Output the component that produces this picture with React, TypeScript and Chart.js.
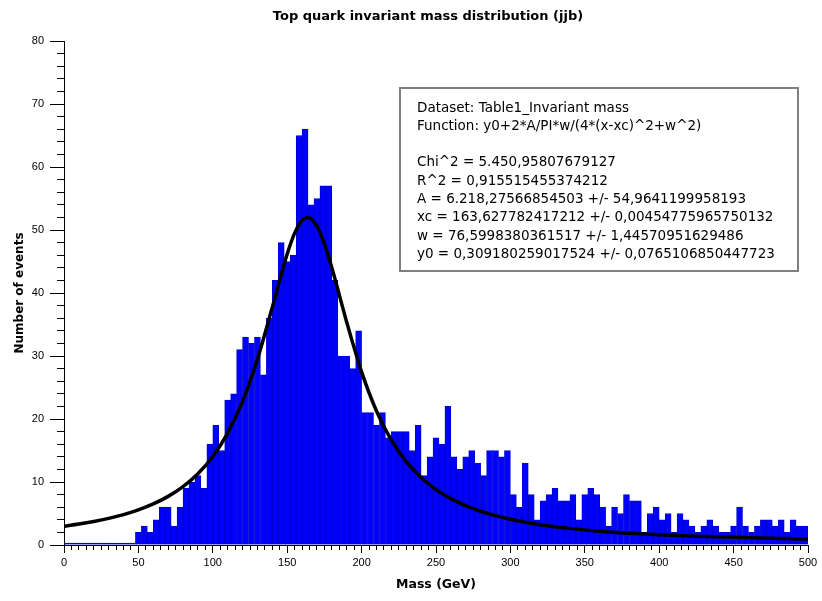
import React, { useEffect, useRef } from "react";
import { Chart, registerables } from "chart.js";

Chart.register(...registerables);

const TITLE = "Top quark invariant mass distribution (jjb)";
const X_TITLE = "Mass (GeV)";
const Y_TITLE = "Number of events";

// histogram: 4 GeV bins from 0 to 500 GeV
const BIN_WIDTH = 4;
const counts = [
  0, 0, 0, 0, 0, 0, 0, 0, 0, 0, 0, 0,
  2, 3, 2, 4, 6, 6, 3, 6, 9, 10, 11, 9, 16, 19, 15, 23, 24, 31, 33,
  32, 33, 27, 36, 42, 48, 45, 46, 65, 66, 54, 55, 57, 57, 42,
  30, 30, 28, 34, 21, 21, 19, 21, 17, 18, 18, 18, 15, 19,
  11, 14, 17, 16, 22, 14, 12, 14, 15, 13, 11, 15, 15, 14, 15,
  8, 6, 13, 8, 4, 7, 8, 9, 7, 7, 8, 4, 8, 9, 8,
  6, 3, 6, 5, 8, 7, 7, 2, 5, 6, 4, 5, 2, 5, 4, 3, 2,
  3, 4, 3, 2, 2, 3, 6, 3, 2, 3, 4, 4, 3, 4, 2, 4, 3, 3,
];

// fitted Lorentz curve
const fitMass = [0, 10, 20, 30, 40, 50, 60, 70, 80, 90, 100, 110, 120, 130, 140, 150, 155, 160, 164, 170, 175, 180, 190, 200, 210, 220, 230, 240, 250, 260, 270, 280, 290, 300, 320, 340, 360, 380, 400, 425, 450, 475, 500];
const fitValue = [2.99, 3.33, 3.74, 4.23, 4.83, 5.58, 6.52, 7.72, 9.27, 11.31, 14.05, 17.76, 22.8, 29.49, 37.74, 46.18, 49.5, 51.53, 52.0, 50.6, 47.8, 44.0, 35.37, 27.48, 21.27, 16.63, 13.22, 10.7, 8.8, 7.36, 6.24, 5.36, 4.66, 4.09, 3.23, 2.64, 2.2, 1.88, 1.63, 1.4, 1.22, 1.08, 0.97];

const X_MIN = 0, X_MAX = 500, X_MAJOR = 50, X_MINOR = 5;
const Y_MIN = 0, Y_MAX = 80, Y_MAJOR = 10, Y_MINOR = 2;

const infoLines = [
  "Dataset: Table1_Invariant mass",
  "Function: y0+2*A/PI*w/(4*(x-xc)^2+w^2)",
  "",
  "Chi^2 = 5.450,95807679127",
  "R^2 = 0,915515455374212",
  "A = 6.218,27566854503 +/- 54,9641199958193",
  "xc = 163,627782417212 +/- 0,00454775965750132",
  "w = 76,5998380361517 +/- 1,44570951629486",
  "y0 = 0,309180259017524 +/- 0,0765106850447723",
];

const FONT = "'DejaVu Sans', Verdana, sans-serif";
const TICK_FONT = "'Liberation Sans', Arial, sans-serif";

const decorPlugin = {
  id: "decor",
  afterDraw(chart: any) {
    const ctx = chart.ctx;
    ctx.save();
    // title
    ctx.fillStyle = "#000";
    ctx.font = `bold 13px ${FONT}`;
    ctx.textAlign = "center";
    ctx.textBaseline = "middle";
    ctx.fillText(TITLE, 428, 17);
    // info box
    const bx = 400, by = 88, bw = 398, bh = 183;
    ctx.fillStyle = "#fff";
    ctx.fillRect(bx, by, bw, bh);
    ctx.strokeStyle = "#808080";
    ctx.lineWidth = 2;
    ctx.strokeRect(bx, by, bw, bh);
    ctx.fillStyle = "#000";
    ctx.font = `13.5px ${FONT}`;
    ctx.textAlign = "left";
    ctx.textBaseline = "middle";
    infoLines.forEach((t, i) => {
      if (t) ctx.fillText(t, 417, 108 + i * 18.3);
    });
    ctx.restore();
  },
};

export default function App() {
  const ref = useRef<HTMLCanvasElement | null>(null);
  useEffect(() => {
    if (!ref.current) return;
    const binCenters = counts.map((_, i) => i * BIN_WIDTH + BIN_WIDTH / 2);
    const chart = new Chart(ref.current, {
      type: "bar",
      data: {
        datasets: [
          {
            type: "line",
            label: "fit",
            data: fitMass.map((x, i) => ({ x, y: fitValue[i] })),
            borderColor: "#000",
            borderWidth: 3.5,
            pointRadius: 0,
            cubicInterpolationMode: "monotone",
            fill: false,
            order: 0,
          } as any,
          {
            type: "bar",
            label: "events",
            data: binCenters.map((x, i) => ({ x, y: counts[i] })),
            backgroundColor: "#0000ff",
            borderColor: "#0000d0",
            borderWidth: 1,
            barPercentage: 1,
            categoryPercentage: 1,
            minBarLength: 2,
            order: 1,
          } as any,
        ],
      },
      options: {
        responsive: false,
        animation: false,
        layout: { padding: { top: 41, right: 14, left: 0, bottom: 0 } },
        plugins: {
          legend: { display: false },
          tooltip: { enabled: false },
          title: { display: false },
        },
        scales: {
          x: {
            type: "linear",
            position: "bottom",
            min: X_MIN,
            max: X_MAX,
            offset: false,
            weight: 1,
            ticks: {
              stepSize: X_MAJOR,
              autoSkip: false,
              maxRotation: 0,
              padding: 3,
              color: "#000",
              font: { family: TICK_FONT, size: 11 },
            },
            grid: { drawOnChartArea: false, offset: false, tickLength: 8, color: "#000" },
            border: { color: "#000", width: 1 },
            title: {
              display: true,
              text: X_TITLE,
              color: "#000",
              font: { family: FONT, size: 12.5, weight: "bold" },
              padding: { top: 0, bottom: 8.5 },
            },
            afterFit: (s: any) => { s.height = 56; },
          },
          x2: {
            type: "linear",
            axis: "x",
            position: "bottom",
            min: X_MIN,
            max: X_MAX,
            offset: false,
            weight: 0,
            ticks: { stepSize: X_MINOR, autoSkip: false, display: false },
            grid: { drawOnChartArea: false, offset: false, tickLength: 5, color: "#000" },
            border: { color: "#000", width: 1 },
            afterFit: (s: any) => { s.height = 0; },
          },
          y: {
            type: "linear",
            position: "left",
            min: Y_MIN,
            max: Y_MAX,
            weight: 1,
            ticks: {
              stepSize: Y_MAJOR,
              autoSkip: false,
              padding: 6,
              color: "#000",
              font: { family: TICK_FONT, size: 11 },
            },
            grid: { drawOnChartArea: false, tickLength: 14, color: "#000" },
            border: { color: "#000", width: 1 },
            title: {
              display: true,
              text: Y_TITLE,
              color: "#000",
              font: { family: FONT, size: 12, weight: "bold" },
              padding: { top: 13, bottom: 0 },
            },
            afterFit: (s: any) => { s.width = 64; },
          },
          y2: {
            type: "linear",
            axis: "y",
            position: "left",
            min: Y_MIN,
            max: Y_MAX,
            weight: 0,
            ticks: { stepSize: Y_MINOR, autoSkip: false, display: false },
            grid: { drawOnChartArea: false, tickLength: 7, color: "#000" },
            border: { color: "#000", width: 1 },
            afterFit: (s: any) => { s.width = 0; },
          },
        },
      } as any,
      plugins: [decorPlugin],
    });
    return () => chart.destroy();
  }, []);
  return (
    <div style={{ position: "fixed", left: 0, top: 0, width: 822, height: 601, background: "#fff" }}>
      <canvas ref={ref} width={822} height={601} style={{ display: "block" }} />
    </div>
  );
}
